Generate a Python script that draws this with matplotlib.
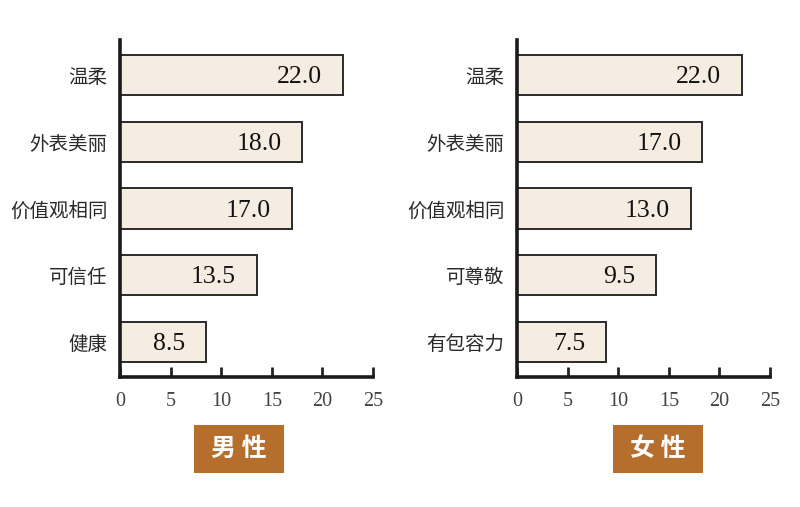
import matplotlib
matplotlib.use("Agg")
import matplotlib.pyplot as plt
from matplotlib.patches import Rectangle

plt.rcParams['font.family'] = ['Noto Sans CJK SC', 'DejaVu Sans']

# Data
male_categories = ["温柔", "外表美丽", "价值观相同", "可信任", "健康"]
male_values = [22.0, 18.0, 17.0, 13.5, 8.5]
male_labels = ["22.0", "18.0", "17.0", "13.5", "8.5"]

female_categories = ["温柔", "外表美丽", "价值观相同", "可尊敬", "有包容力"]
# bar lengths as drawn in the reference
female_values = [22.2, 18.3, 17.2, 13.7, 8.8]
female_labels = ["22.0", "17.0", "13.0", "9.5", "7.5"]

xticks = [0, 5, 10, 15, 20, 25]
titles = ["男 性", "女 性"]

W, H = 800, 507
fig = plt.figure(figsize=(8.0, 5.07), dpi=100)
fig.patch.set_facecolor("white")

bar_fill = "#F5EDE2"
bar_edge = "#2a2a2a"
box_color = "#B56E2C"

def make_panel(left_px, cats, vals, labels, title, box_left_px):
    ax = fig.add_axes([left_px / W, 1 - 377 / H, 253 / W, 337 / H])
    y = list(range(len(cats)))
    ax.barh(y, vals, height=0.6, color=bar_fill, edgecolor=bar_edge, linewidth=1.4, zorder=2)
    for yi, v, lab in zip(y, vals, labels):
        ax.annotate(lab, xy=(v, yi), xytext=(-15, -1.5), textcoords="offset points",
                    ha="right", va="center", fontsize=18.5,
                    family=["Liberation Serif", "DejaVu Serif"], color="#111111")
    ax.set_xlim(0, 25)
    ax.set_ylim(len(cats) - 0.48, -0.52)
    ax.set_yticks(y)
    ax.set_yticklabels(cats, fontsize=14, color="#2a2a2a")
    ax.tick_params(axis="y", length=0, pad=9)
    ax.set_xticks(xticks)
    ax.set_xticklabels([str(t) for t in xticks], fontsize=14.5,
                       family=["Liberation Serif", "DejaVu Serif"], color="#444444")
    ax.tick_params(axis="x", direction="in", length=7, width=2, pad=11, color="#222222")
    for s in ["top", "right"]:
        ax.spines[s].set_visible(False)
    for s in ["left", "bottom"]:
        ax.spines[s].set_linewidth(2.6)
        ax.spines[s].set_color("#1a1a1a")
    ax.set_facecolor("white")

    # title box
    bx, by, bw, bh = box_left_px, 425, 90, 48
    fig.patches.append(Rectangle((bx / W, 1 - (by + bh) / H), bw / W, bh / H,
                                 transform=fig.transFigure, facecolor=box_color,
                                 edgecolor="none"))
    fig.text((bx + bw / 2) / W, 1 - (by + bh / 2) / H, title, color="white",
             fontsize=18, fontweight="bold", ha="center", va="center")
    return ax

make_panel(120, male_categories, male_values, male_labels, titles[0], 194)
make_panel(517, female_categories, female_values, female_labels, titles[1], 613)

fig.savefig("out.png", dpi=100, facecolor="white")
